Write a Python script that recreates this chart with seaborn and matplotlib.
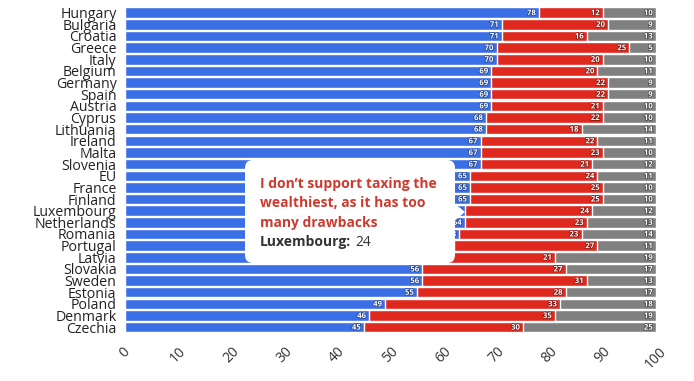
import matplotlib
matplotlib.use("Agg")
import matplotlib.pyplot as plt
import matplotlib.patheffects as pe
from matplotlib.patches import FancyBboxPatch, Polygon
from matplotlib.transforms import IdentityTransform
import seaborn as sns
import pandas as pd

countries = ["Hungary", "Bulgaria", "Croatia", "Greece", "Italy", "Belgium", "Germany",
             "Spain", "Austria", "Cyprus", "Lithuania", "Ireland", "Malta", "Slovenia",
             "EU", "France", "Finland", "Luxembourg", "Netherlands", "Romania", "Portugal",
             "Latvia", "Slovakia", "Sweden", "Estonia", "Poland", "Denmark", "Czechia"]
support = [78, 71, 71, 70, 70, 69, 69, 69, 69, 68, 68, 67, 67, 67,
           65, 65, 65, 64, 64, 63, 62, 60, 56, 56, 55, 49, 46, 45]
oppose = [12, 20, 16, 25, 20, 20, 22, 22, 21, 22, 18, 22, 23, 21,
          24, 25, 25, 24, 23, 23, 27, 21, 27, 31, 28, 33, 35, 30]
dont_know = [10, 9, 13, 5, 10, 11, 9, 9, 10, 10, 14, 11, 10, 12,
             11, 10, 10, 12, 13, 14, 11, 19, 17, 13, 17, 18, 19, 25]
tooltip_lines = ["I don\u2019t support taxing the", "wealthiest, as it has too", "many drawbacks"]

BLUE = "#3b6fe6"
RED = "#e0291e"
GREY = "#808080"

df = pd.DataFrame({"country": countries, "support": support,
                   "oppose": oppose, "dont_know": dont_know})
df["c1"] = df["support"]
df["c2"] = df["support"] + df["oppose"]
df["c3"] = df["c2"] + df["dont_know"]

sns.set_theme(style="white")
plt.rcParams["font.family"] = ["Open Sans", "DejaVu Sans"]

fig = plt.figure(figsize=(6.94, 3.81), dpi=100)
ax = fig.add_axes([0.180, 0.126, 0.765, 0.856])

# stacked bars drawn as cumulative totals, back to front
for col, color in [("c3", GREY), ("c2", RED), ("c1", BLUE)]:
    sns.barplot(data=df, x=col, y="country", orient="h", color=color,
                saturation=1, width=0.9, edgecolor="white", linewidth=1.0, ax=ax)

# segment labels at the right end of each segment
outline = {BLUE: "#1f3f8a", RED: "#7a1510", GREY: "#404040"}
for i, row in df.iterrows():
    for val, end, color in [(row["support"], row["c1"], BLUE),
                            (row["oppose"], row["c2"], RED),
                            (row["dont_know"], row["c3"], GREY)]:
        ax.text(end - 0.6, i, str(val), ha="right", va="center", fontsize=5.6,
                fontweight="bold", color="white",
                path_effects=[pe.withStroke(linewidth=1.0, foreground=outline[color])])

ax.set_xlim(0, 100)
ax.set_ylim(len(countries) - 0.5, -0.5)
ax.set_xticks(range(0, 101, 10))
ax.set_xticklabels([str(t) for t in range(0, 101, 10)], rotation=45,
                   ha="center", va="top", fontsize=10, color="#333333")
ax.tick_params(axis="x", pad=8, length=0)
ax.tick_params(axis="y", length=0, pad=6, labelsize=10.2, labelcolor="#222222")
ax.set_xlabel("")
ax.set_ylabel("")
for s in ax.spines.values():
    s.set_visible(False)

# tooltip box (display pixel coordinates, origin bottom-left, height 381)
H = 381
ident = IdentityTransform()
box = FancyBboxPatch((245, H - 263), 210, 103,
                     boxstyle="round,pad=0,rounding_size=8",
                     transform=ident, facecolor="white", edgecolor="none",
                     zorder=10, clip_on=False)
fig.patches.append(box)
tip = Polygon([(454, H - 203), (465, H - 212), (454, H - 221)], closed=True,
              transform=ident, facecolor="white", edgecolor="none",
              zorder=10, clip_on=False)
fig.patches.append(tip)
for k, line in enumerate(tooltip_lines):
    fig.text(260, H - (184 + 19.3 * k), line, transform=ident, ha="left", va="center",
             fontsize=10.0, fontweight="bold", color="#cf3a2e", zorder=11)
fig.text(260, H - 242, "Luxembourg:", transform=ident, ha="left", va="center",
         fontsize=10.0, fontweight="bold", color="#333333", zorder=11)
fig.text(355, H - 242, str(df.loc[df["country"] == "Luxembourg", "oppose"].iloc[0]),
         transform=ident, ha="left", va="center", fontsize=10.0, color="#333333", zorder=11)

fig.savefig("out.png", dpi=100)
